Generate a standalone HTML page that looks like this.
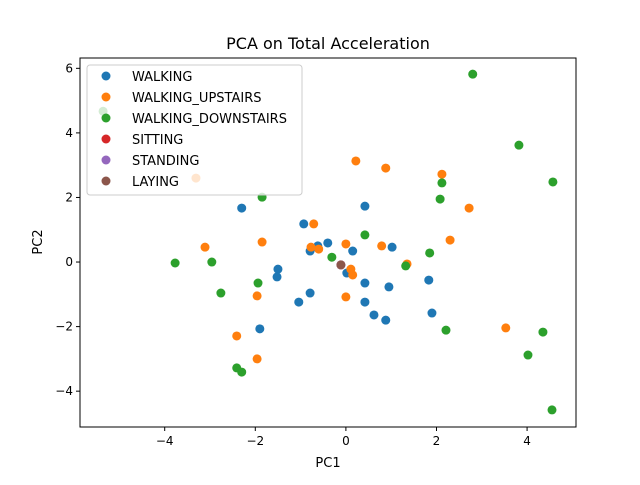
<!DOCTYPE html>
<html><head><meta charset="utf-8"><style>
body{margin:0;background:#fff;font-family:"Liberation Sans","DejaVu Sans",sans-serif;}
svg text{font-family:"DejaVu Sans","Liberation Sans",sans-serif;}
</style></head><body>
<svg id="chart" width="640" height="480" xmlns="http://www.w3.org/2000/svg">
<rect width="640" height="480" fill="#fff"/>
<text x="328" y="49" font-size="16" text-anchor="middle">PCA on Total Acceleration</text>
<g id="points"></g>
<rect x="80" y="58" width="496" height="369" fill="none" stroke="#000" stroke-width="1"/>
<g id="ticks"></g>
<text x="328" y="467" font-size="13" text-anchor="middle">PC1</text>
<text x="42" y="242" font-size="13" text-anchor="middle" transform="rotate(-90 42 242)">PC2</text>
<g id="legend"></g>
</svg>
<script>
const seriesNames=["WALKING","WALKING_UPSTAIRS","WALKING_DOWNSTAIRS","SITTING","STANDING","LAYING"];
const seriesColors=["#1f77b4","#ff7f0e","#2ca02c","#d62728","#9467bd","#8c564b"];
const walkingX=[-2.30,-0.93,-0.62,-0.40,-0.79,-1.50,-1.52,-0.79,-1.04,-1.90,0.42,0.15,1.02,0.02,0.42,0.95,1.83,0.42,0.62,0.88,1.90];
const walkingY=[1.67,1.18,0.50,0.59,0.34,-0.22,-0.46,-0.96,-1.24,-2.07,1.73,0.34,0.46,-0.34,-0.65,-0.77,-0.56,-1.24,-1.64,-1.80,-1.58];
const upstairsX=[-0.71,-1.85,-3.11,-0.77,-0.60,-1.96,-2.41,-1.96,-3.31,0.22,0.88,2.12,2.72,2.30,0.0,0.79,0.11,0.15,1.35,0.0,3.53];
const upstairsY=[1.18,0.62,0.46,0.46,0.40,-1.05,-2.29,-3.00,2.60,3.13,2.91,2.72,1.67,0.68,0.56,0.50,-0.22,-0.40,-0.06,-1.08,-2.04];
const downstairsX=[-5.36,-1.85,-3.77,-2.96,-1.94,-2.76,-2.41,-2.30,2.80,3.82,4.57,2.12,2.08,0.42,-0.31,1.85,1.32,2.21,4.35,4.02,4.55];
const downstairsY=[4.67,2.01,-0.03,0.0,-0.65,-0.96,-3.28,-3.41,5.82,3.62,2.48,2.45,1.95,0.84,0.15,0.28,-0.12,-2.11,-2.17,-2.88,-4.58];
const sittingX=[-0.11], sittingY=[-0.09];
const standingX=[-0.11], standingY=[-0.09];
const layingX=[-0.11], layingY=[-0.09];
const xTicks=[-4,-2,0,2,4];
const yTicks=[-4,-2,0,2,4,6];
const xMin=-5.87,xMax=5.08,yMin=-5.11,yMax=6.32;
const L=80,R=576,T=58,B=427;
const sx=v=>L+(v-xMin)/(xMax-xMin)*(R-L);
const sy=v=>B-(v-yMin)/(yMax-yMin)*(B-T);
const NS="http://www.w3.org/2000/svg";
const pts=document.getElementById('points');
const all=[[walkingX,walkingY],[upstairsX,upstairsY],[downstairsX,downstairsY],[sittingX,sittingY],[standingX,standingY],[layingX,layingY]];
all.forEach((s,si)=>{s[0].forEach((x,i)=>{
 const c=document.createElementNS(NS,'circle');
 c.setAttribute('cx',sx(x));c.setAttribute('cy',sy(s[1][i]));c.setAttribute('r',4.5);c.setAttribute('fill',seriesColors[si]);
 
 
 pts.appendChild(c);});});
const tk=document.getElementById('ticks');
xTicks.forEach(v=>{const x=sx(v);
 const l=document.createElementNS(NS,'line');l.setAttribute('x1',x);l.setAttribute('x2',x);l.setAttribute('y1',B);l.setAttribute('y2',B+4);l.setAttribute('stroke','#000');
 
 
 tk.appendChild(l);
 const t=document.createElementNS(NS,'text');t.setAttribute('x',x);t.setAttribute('y',B+18);t.setAttribute('font-size','12');t.setAttribute('text-anchor','middle');t.textContent=v<0?'\u2212'+(-v):v;
 
 
 tk.appendChild(t);});
yTicks.forEach(v=>{const y=sy(v);
 const l=document.createElementNS(NS,'line');l.setAttribute('x1',L-4);l.setAttribute('x2',L);l.setAttribute('y1',y);l.setAttribute('y2',y);l.setAttribute('stroke','#000');
 
 
 tk.appendChild(l);
 const t=document.createElementNS(NS,'text');t.setAttribute('x',L-7);t.setAttribute('y',y+4);t.setAttribute('font-size','12');t.setAttribute('text-anchor','end');t.textContent=v<0?'\u2212'+(-v):v;
 
 
 tk.appendChild(t);});
const lg=document.getElementById('legend');
const box=document.createElementNS(NS,'rect');box.setAttribute('x',87);box.setAttribute('y',65);box.setAttribute('width',215);box.setAttribute('height',130);box.setAttribute('rx',3);box.setAttribute('fill','rgba(255,255,255,0.8)');box.setAttribute('stroke','#ccc');


lg.appendChild(box);
seriesNames.forEach((n,i)=>{const y=76+i*21;
 const c=document.createElementNS(NS,'circle');c.setAttribute('cx',106);c.setAttribute('cy',y);c.setAttribute('r',4.5);c.setAttribute('fill',seriesColors[i]);
 
 
 lg.appendChild(c);
 const t=document.createElementNS(NS,'text');t.setAttribute('x',132);t.setAttribute('y',y+5);t.setAttribute('font-size','13');t.textContent=n;
 
 
 lg.appendChild(t);});
</script>
</body></html>
